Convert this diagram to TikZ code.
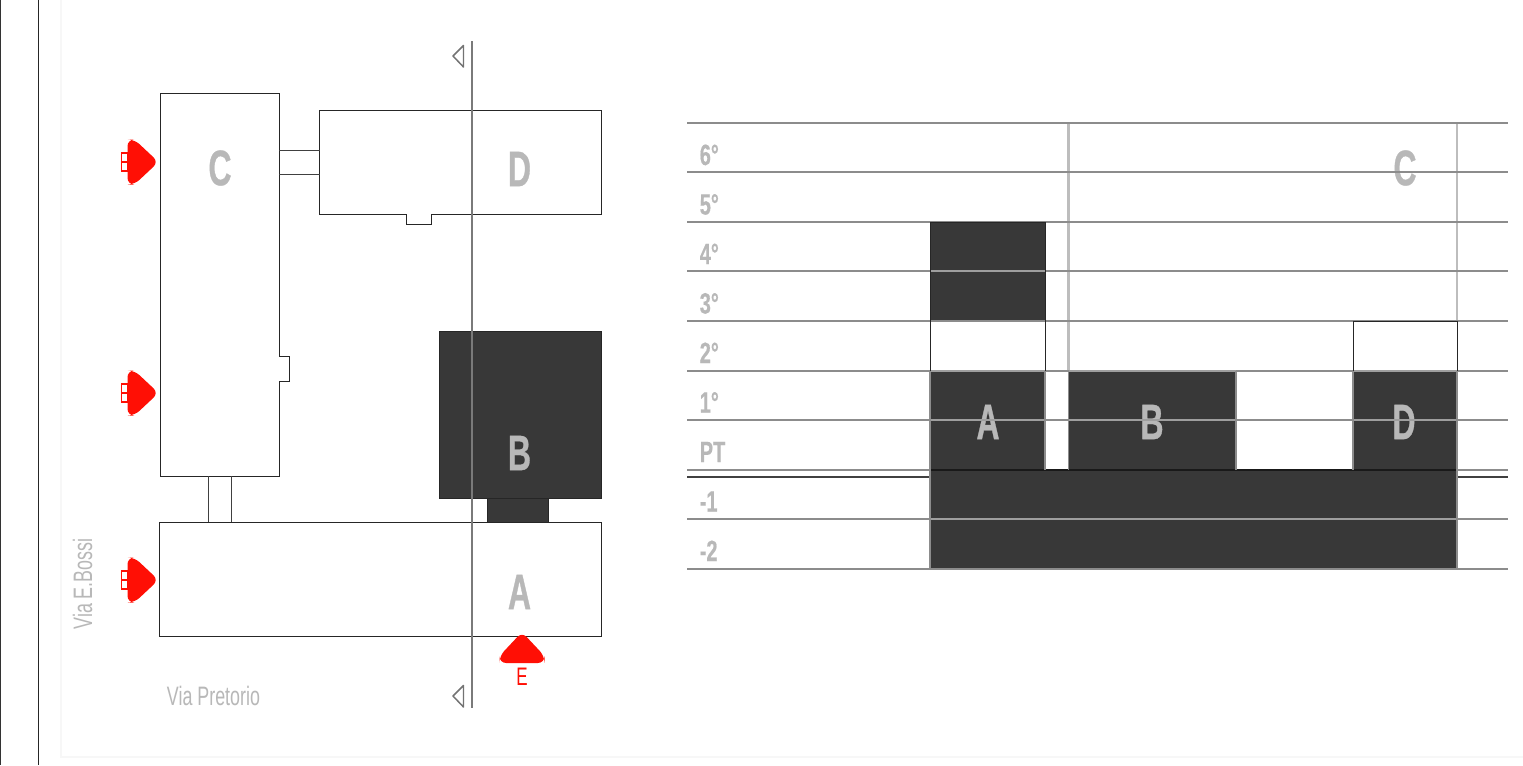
\documentclass[tikz,border=0pt]{standalone}
\usepackage{fontspec}
\setmainfont{Liberation Sans}
\newfontfamily\condreg[FakeStretch=0.67]{Liberation Sans}
\newfontfamily\condbold[FakeStretch=0.64,FakeBold=0.6]{Liberation Sans Bold}
\newfontfamily\condlevel[FakeStretch=0.68,FakeBold=0.4]{Liberation Sans Bold}
\definecolor{darkfill}{HTML}{383838}
\definecolor{lettergray}{HTML}{B8B8B8}
\definecolor{levelline}{HTML}{8C8C8C}
\definecolor{onDark}{HTML}{9E9E9E}
\definecolor{outlineC}{HTML}{BDBDBD}
\definecolor{redmark}{HTML}{FF0F05}
\tikzset{
  wall/.style={draw=black!85,line width=0.75pt,fill=white},
  thinwall/.style={draw=black!75,line width=0.7pt},
  darkblock/.style={fill=darkfill,draw=black!85,line width=0.75pt},
  bigletter/.style={text=lettergray,font=\condbold\fontsize{37.5pt}{37.5pt}\selectfont,inner sep=0pt},
  levellabel/.style={text=lettergray,font=\condlevel\fontsize{22pt}{22pt}\selectfont,inner sep=0pt,anchor=base west},
  street/.style={text=lettergray,font=\condreg\fontsize{20pt}{20pt}\selectfont,inner sep=0pt},
  level/.style={draw=levelline,line width=1.2pt},
  overdark/.style={draw=onDark,line width=1.1pt},
  pics/redarrow/.style={code={
    \fill[redmark,rounded corners=5pt] (-29,-22.5)--(-22,-22.5)--(2,0)--(-22,22.5)--(-29,22.5)--cycle;
  }},
  pics/redtail/.style={code={
    \draw[redmark,line width=1pt] (-35,-9) rectangle (-29,0) (-35,0) rectangle (-29,9);
  }},
  marktri/.style={draw=black!55,line width=1.1pt,line join=round,fill=white}
}
\begin{document}
\begin{tikzpicture}[x=0.75pt,y=-0.75pt]
\useasboundingbox (0,0) rectangle (1523,765);
% page frame
\fill[white] (0,0) rectangle (1523,765);
\draw[black!80,line width=0.9pt] (0.5,0)--(0.5,765);
\draw[black!85,line width=0.9pt] (38.8,0)--(38.8,765);
\draw[black!3,line width=1pt] (61,0)--(61,757)--(1523,757);
% --- plan ---
\draw[wall] (160,93)--(279,93)--(279,356)--(289,356)--(289,381)--(279,381)--(279,476)--(160,476)--cycle;
\draw[wall] (319.5,110.5)--(601,110.5)--(601,214.5)--(431,214.5)--(431,224.5)--(406,224.5)--(406,214.5)--(319.5,214.5)--cycle;
\draw[thinwall] (279,150.5)--(319.5,150.5) (279,174.5)--(319.5,174.5);
\draw[darkblock] (439,331) rectangle (601,498);
\draw[darkblock] (487,498) rectangle (548.5,522);
\draw[wall] (159,522) rectangle (601,636);
\draw[thinwall] (208,476)--(208,522) (231,476)--(231,522);
\node[bigletter] (planC) at (220,168) {C};
\node[bigletter] (planD) at (519.5,169) {D};
\node[bigletter] (planB) at (519.5,453) {B};
\node[bigletter] (planA) at (519.5,592) {A};
\coordinate (cutTop) at (472,41);
\coordinate (cutBot) at (472,708);
\draw[black!52,line width=1.1pt] (cutTop)--(cutBot);
\draw[marktri] (463.5,45.5)--(453,56)--(463.5,67)--cycle;
\draw[marktri] (463.5,685.5)--(453,696)--(463.5,707)--cycle;
\foreach \yy in {162,393,580}{
  \pic at (156.5,\yy) {redarrow};
  \pic at (156.5,\yy) {redtail};
}
\pic[rotate=90] at (522,634) {redarrow};
\node[text=redmark,font=\condreg\fontsize{19pt}{19pt}\selectfont,inner sep=0pt] (entry) at (522,677) {E};
\node[street] (via1) at (213.5,695.5) {Via Pretorio};
\node[street,rotate=90] (via2) at (82.5,584) {Via E.Bossi};
% --- section ---
\draw[outlineC,line width=1.8pt] (1068.5,123)--(1068.5,371) (1457,123)--(1457,321);
\fill[darkfill] (930,222) rectangle (1045,321);
\fill[darkfill] (930,371) rectangle (1045,470);
\fill[darkfill] (1068,371) rectangle (1236,470);
\fill[darkfill] (1353,371) rectangle (1457,470);
\fill[darkfill] (930,470) rectangle (1457,569);
\node[bigletter] (secC) at (1405,168) {C};
\node[bigletter] (secA) at (988,422) {A};
\node[bigletter] (secB) at (1152,422) {B};
\node[bigletter] (secD) at (1404,422) {D};
\foreach \yy in {123,172,222,271,321,371,420,470,519,569}{
  \draw[level] (687,\yy)--(1507.5,\yy);
}
\draw[black!75,line width=0.8pt] (687,477)--(1507.5,477);
\fill[darkfill] (930,471) rectangle (1457,518);
\draw[black!90,line width=0.9pt] (930,470)--(1457,470);
\foreach \yy in {271,371,420}{\draw[overdark] (931,\yy)--(1044.5,\yy);}
\foreach \yy in {371,420}{\draw[overdark] (1069,\yy)--(1235.5,\yy); \draw[overdark] (1354,\yy)--(1456.5,\yy);}
\draw[overdark] (931,519)--(1456.5,519);
\draw[levelline,line width=1pt] (930,371)--(930,569) (1045,371)--(1045,470) (1068.5,371)--(1068.5,470) (1236,371)--(1236,470) (1353,371)--(1353,470) (1457,371)--(1457,569);
\draw[black!85,line width=0.75pt] (930,321)--(930,371) (930,222)--(1045,222) (1045,222)--(1045,371) (930,222)--(930,321);
\draw[black!85,line width=0.75pt] (1353,371)--(1353,321)--(1457,321)--(1457,371);
\node[levellabel] (l6) at (699.5,165) {6°};
\node[levellabel] (l5) at (699.5,214.5) {5°};
\node[levellabel] (l4) at (699.5,264) {4°};
\node[levellabel] (l3) at (699.5,313.5) {3°};
\node[levellabel] (l2) at (699.5,363) {2°};
\node[levellabel] (l1) at (699.5,412.5) {1°};
\node[levellabel] (lpt) at (699.5,462) {PT};
\node[levellabel] (lm1) at (699.5,511.5) {-1};
\node[levellabel] (lm2) at (699.5,561) {-2};
\end{tikzpicture}
\end{document}
